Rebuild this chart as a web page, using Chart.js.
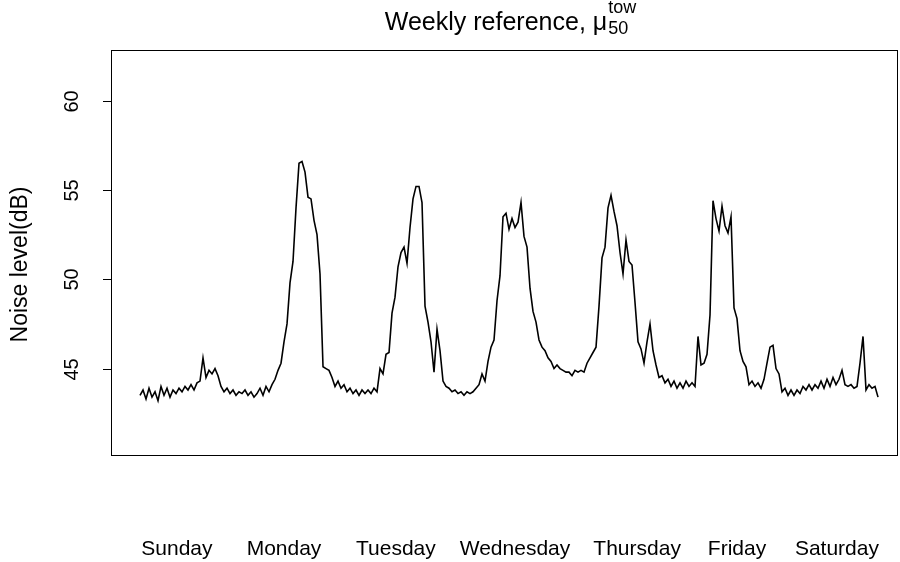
<!DOCTYPE html>
<html>
<head>
<meta charset="utf-8">
<script src="https://cdn.jsdelivr.net/npm/chart.js@4.4.0/dist/chart.umd.min.js"></script>
<style>
    html, body { margin: 0; padding: 0; background: #fff; }
</style>
</head>
<body>
<canvas id="weeklyChart" width="900" height="562"></canvas>
<script>
// 週間ノイズレベル（dB）、ほぼ3px刻みで読み取り
const noiseLevel = [
    // Sunday
    43.5, 43.8, 43.3, 43.9, 43.4, 43.7, 43.2, 44.0, 43.5, 43.9,
    43.4, 43.8, 43.6, 43.9, 43.7, 44.0, 43.8, 44.1, 43.8, 44.2,
    44.3, 45.6, 44.5, 44.9, 44.7, 45.0, 44.6, 44.0, 43.7, 43.9,
    43.6, 43.8, 43.5, 43.7, 43.6, 43.8, 43.5, 43.7, 43.4, 43.6,
    // Monday
    43.9, 43.5, 44.0, 43.7, 44.1, 44.4, 44.9, 45.3, 46.5, 47.5,
    49.8, 51.0, 54.0, 56.5, 56.6, 56.0, 54.6, 54.5, 53.3, 52.5,
    50.3, 45.1, 45.0, 44.9, 44.5, 44.0, 44.3, 43.9, 44.1, 43.7,
    43.9, 43.6, 43.8, 43.5, 43.8, 43.6, 43.8, 43.6, 43.9, 43.7,
    // Tuesday
    45.0, 44.7, 45.8, 45.9, 48.1, 49.0, 50.7, 51.5, 51.8, 50.9,
    52.9, 54.5, 55.2, 55.2, 54.3, 48.5, 47.6, 46.5, 44.8, 47.2,
    46.0, 44.3, 44.0, 43.9, 43.7, 43.8, 43.6, 43.7, 43.5, 43.7,
    43.6, 43.7, 43.9, 44.1, 44.7, 44.3, 45.4, 46.2, 46.6, 48.8,
    // Wednesday
    50.2, 53.5, 53.7, 52.8, 53.4, 52.9, 53.2, 54.3, 52.4, 51.8,
    49.5, 48.2, 47.6, 46.6, 46.2, 46.0, 45.6, 45.4, 45.0, 45.2,
    45.0, 44.9, 44.8, 44.8, 44.6, 44.9, 44.8, 44.9, 44.8, 45.3,
    45.6, 45.9, 46.2, 48.5, 51.2, 51.8, 54.0, 54.7, 53.8, 53.0,
    // Thursday
    51.5, 50.3, 52.2, 51.0, 50.8, 48.7, 46.5, 46.1, 45.3, 46.5,
    47.5, 46.0, 45.2, 44.5, 44.6, 44.2, 44.4, 44.0, 44.3, 43.9,
    44.2, 43.9, 44.3, 44.0, 44.2, 44.0, 46.8, 45.2, 45.3, 45.8,
    // Friday
    48.0, 54.4, 53.4, 52.7, 54.1, 53.0, 52.6, 53.5, 48.4, 47.8,
    46.0, 45.4, 45.1, 44.1, 44.3, 44.0, 44.2, 43.9, 44.4, 45.3,
    46.2, 46.3, 45.0, 44.7, 43.7, 43.9, 43.5, 43.8, 43.5, 43.8,
    // Saturday
    43.6, 44.0, 43.8, 44.1, 43.8, 44.1, 43.9, 44.3, 43.9, 44.4,
    44.0, 44.5, 44.1, 44.4, 44.9, 44.1, 44.0, 44.1, 43.9, 44.0,
    45.3, 46.8, 43.8, 44.1, 43.9, 44.0, 43.4
];
// 軸目盛
const yTicks = [45, 50, 55, 60];
const dayNames = ['Sunday', 'Monday', 'Tuesday', 'Wednesday', 'Thursday', 'Friday', 'Saturday'];
const dayPos = [12.3, 48, 85.3, 125, 165.7, 199, 232.3];

const FONT = '"Liberation Sans", Arial, Helvetica, sans-serif';

// R風の枠・目盛・ラベルを描く
const baseGraphics = {
    id: 'baseGraphics',
    afterDraw(chart) {
        const ctx = chart.ctx;
        const area = chart.chartArea;
        const xs = chart.scales.x;
        const ys = chart.scales.y;
        ctx.save();
        ctx.strokeStyle = '#000';
        ctx.fillStyle = '#000';
        ctx.lineWidth = 1;
        ctx.strokeRect(Math.round(area.left) + 0.5, Math.round(area.top) + 0.5,
            Math.round(area.right - area.left), Math.round(area.bottom - area.top));

        // y軸の目盛と数値（縦書き）
        ctx.font = '20px ' + FONT;
        ctx.textAlign = 'center';
        ctx.textBaseline = 'middle';
        yTicks.forEach(v => {
            const py = Math.round(ys.getPixelForValue(v)) + 0.5;
            ctx.beginPath();
            ctx.moveTo(area.left - 8, py);
            ctx.lineTo(area.left, py);
            ctx.stroke();
            ctx.save();
            ctx.translate(72, py);
            ctx.rotate(-Math.PI / 2);
            ctx.fillText(String(v), 0, 0);
            ctx.restore();
        });
        ctx.save();
        ctx.font = '23px ' + FONT;
        ctx.translate(21, (area.top + area.bottom) / 2 + 12);
        ctx.rotate(-Math.PI / 2);
        ctx.fillText('Noise level(dB)', 0, 0);
        ctx.restore();

        // 曜日ラベル
        ctx.font = '21px ' + FONT;
        dayNames.forEach((name, i) => {
            ctx.fillText(name, xs.getPixelForValue(dayPos[i]), 549);
        });

        // タイトル: Weekly reference, μ_50^tow
        const main = 'Weekly reference, \u03bc';
        ctx.font = '25px ' + FONT;
        const wMain = ctx.measureText(main).width;
        ctx.font = '18px ' + FONT;
        const wSub = Math.max(ctx.measureText('50').width, ctx.measureText('tow').width);
        const cx = (area.left + area.right) / 2 + 6;
        const x0 = cx - (wMain + wSub) / 2;
        ctx.textAlign = 'left';
        ctx.textBaseline = 'alphabetic';
        ctx.font = '25px ' + FONT;
        ctx.fillText(main, x0, 30);
        ctx.font = '18px ' + FONT;
        ctx.fillText('tow', x0 + wMain + 1, 13);
        ctx.fillText('50', x0 + wMain + 1, 34);
        ctx.restore();
    }
};

const ctxWeekly = document.getElementById('weeklyChart').getContext('2d');
const weeklyChart = new Chart(ctxWeekly, {
    type: 'line',
    data: {
        labels: noiseLevel.map((_, i) => i),
        datasets: [{
            data: noiseLevel.map((v, i) => ({ x: i, y: v })),
            borderColor: '#000',
            borderWidth: 1.6,
            pointRadius: 0,
            tension: 0,
            fill: false
        }]
    },
    options: {
        responsive: false,
        animation: false,
        layout: { padding: { left: 111, top: 50, right: 3, bottom: 107 } },
        plugins: {
            legend: { display: false },
            title: { display: false },
            tooltip: { enabled: false }
        },
        scales: {
            x: { type: 'linear', min: -9.67, max: 252.33, display: false },
            y: { min: 40.16, max: 62.84, display: false }
        }
    },
    plugins: [baseGraphics]
});
</script>
</body>
</html>
